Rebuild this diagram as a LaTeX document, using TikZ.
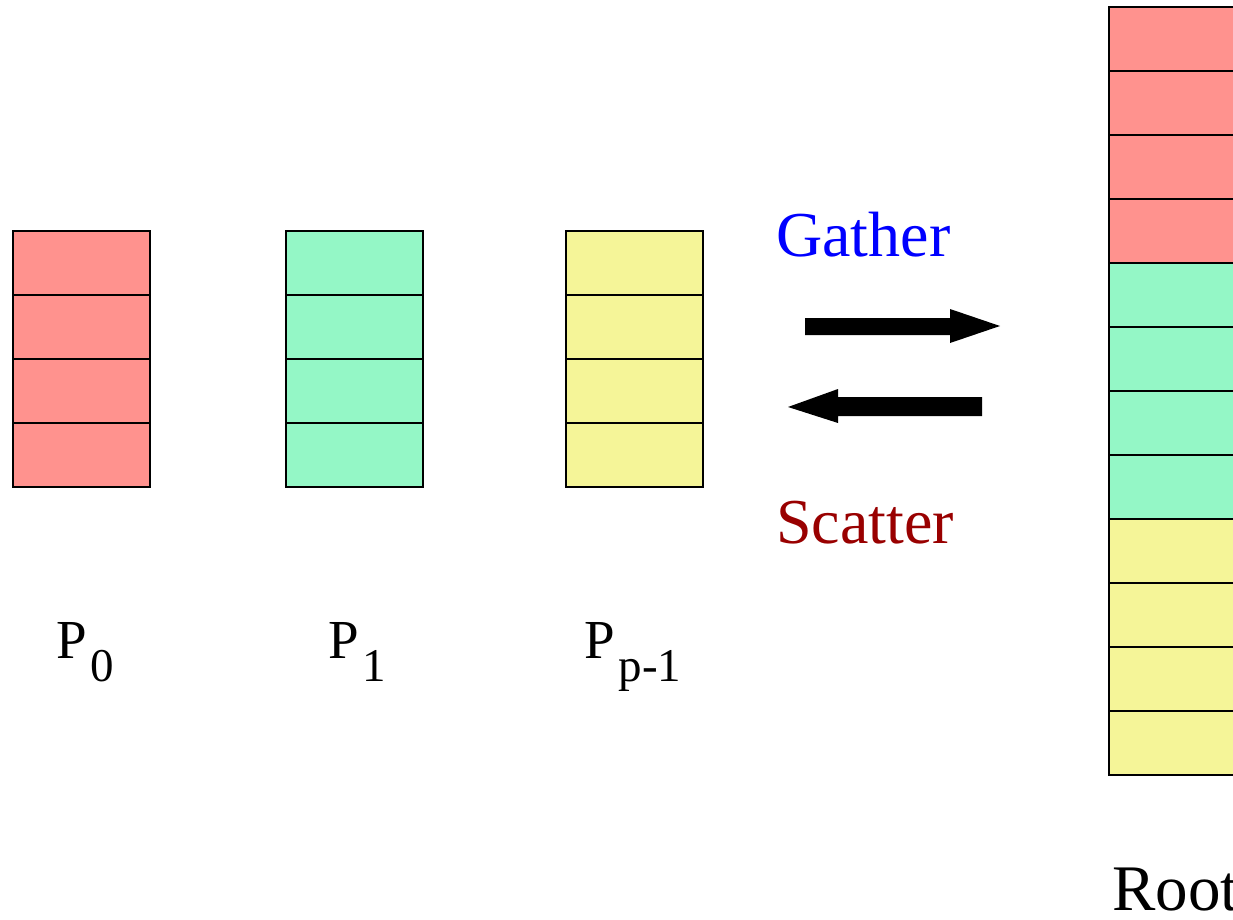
\documentclass[tikz,border=0pt]{standalone}
\usepackage{fontspec}
\setmainfont{Liberation Serif}
\definecolor{cred}{HTML}{FF928E}
\definecolor{cgreen}{HTML}{94F7C6}
\definecolor{cyellow}{HTML}{F5F598}
\definecolor{gblue}{HTML}{0000FF}
\definecolor{sred}{HTML}{990000}
\tikzset{
  cell/.style={draw=black, line width=2pt, fill=#1, minimum width=137pt, minimum height=64pt, inner sep=0pt, outer sep=0pt, anchor=north west},
  plbl/.style={anchor=base west, inner sep=0pt, font=\fontsize{55}{60}\selectfont},
  big/.style={anchor=base west, inner sep=0pt, font=\fontsize{64}{70}\selectfont},
  fatarrow/.style={fill=black, draw=none}
}
\newcommand{\psub}[1]{\kern4pt\raisebox{-23pt}{\fontsize{47}{47}\selectfont #1}}
\begin{document}
\begin{tikzpicture}[x=1pt,y=-1pt]
\clip (0,0) rectangle (1233,920);
\fill[white] (0,0) rectangle (1233,920);
\foreach \i in {0,1,2,3} {
  \node[cell=cred] (a\i) at (13,{231+64*\i}) {};
  \node[cell=cgreen] (b\i) at (286,{231+64*\i}) {};
  \node[cell=cyellow] (c\i) at (566,{231+64*\i}) {};
}
\foreach \i in {0,1,2,3} {
  \node[cell=cred] (r\i) at (1109,{7+64*\i}) {};
}
\foreach \i in {4,5,6,7} {
  \node[cell=cgreen] (r\i) at (1109,{7+64*\i}) {};
}
\foreach \i in {8,9,10,11} {
  \node[cell=cyellow] (r\i) at (1109,{7+64*\i}) {};
}
\node[plbl] (lp0) at (56,658) {P\psub{0}};
\node[plbl] (lp1) at (328,658) {P\psub{1}};
\node[plbl] (lpp) at (584,658) {P\psub{p-1}};
\node[big, text=gblue] (gather) at (776,256) {Gather};
\node[big, text=sred] (scatter) at (776,543) {Scatter};
\node[anchor=base west, inner sep=0pt, font=\fontsize{65}{70}\selectfont] (root) at (1112,910) {Root};
\fill[fatarrow] (805,318) -- (950,318) -- (950,309) -- (1000,326) -- (950,343) -- (950,335) -- (805,335) -- cycle;
\fill[fatarrow] (982,397) -- (838,397) -- (838,389) -- (788,407) -- (838,423) -- (838,416) -- (982,416) -- cycle;
\end{tikzpicture}
\end{document}
